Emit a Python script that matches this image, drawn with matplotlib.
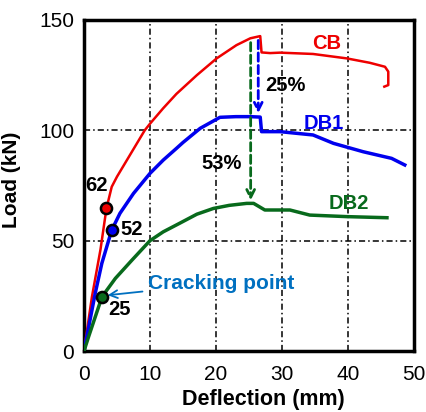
import matplotlib
matplotlib.use("Agg")
import matplotlib.pyplot as plt

plt.rcParams['font.family'] = ['Liberation Sans', 'DejaVu Sans']

# CB (control beam)
cb_x = [0, 1.2, 2.5, 3.4, 4.2, 5.0, 6.5, 8.2, 9.2, 10.0, 12.0, 14.0, 17.1, 20.1, 23.1, 25.2, 26.7,
        26.9, 28.2, 29.7, 34.7, 39.8, 43.3, 45.6, 46.1, 46.1, 45.5]
cb_y = [0, 24.5, 46, 64.6, 74.4, 79, 86.5, 95.0, 100.0, 103.0, 110, 116.5, 125, 132.6, 138.6, 141.7, 142.7,
        135.3, 135.0, 135.2, 134.6, 132.6, 130.6, 128.8, 126.6, 120.5, 119.8]
# DB1
db1_x = [0, 1.7, 2.7, 4.2, 5.45, 7.5, 10.0, 12.0, 14.0, 15.0, 17.6, 20.6, 23.0, 25.2, 26.7,
         26.9, 29.7, 34.7, 37.8, 42.3, 46.6, 48.6]
db1_y = [0, 26.1, 39.7, 54.8, 62.4, 71.4, 80.5, 86.5, 91.8, 94.5, 100.9, 105.9, 106.2, 106.2, 106.0,
         99.4, 99.4, 97.9, 94.1, 90.3, 87.3, 84.3]
# DB2
db2_x = [0, 0.7, 2.73, 4.75, 7.27, 10.0, 12.0, 14.5, 17.1, 19.6, 22.0, 24.65, 25.7, 27.4, 31.2,
         34.2, 39.8, 45.9]
db2_y = [0, 6.5, 24.6, 32.9, 41.2, 50.0, 54.0, 57.9, 62.0, 64.6, 66.0, 66.9, 66.9, 63.9, 63.9,
         61.6, 60.9, 60.4]

# Cracking points
crack_x = [3.4, 4.2, 2.73]
crack_y = [64.6, 54.8, 24.6]
crack_labels = ["62", "52", "25"]

x_ticks = [0, 10, 20, 30, 40, 50]
y_ticks = [0, 50, 100, 150]

fig = plt.figure(figsize=(4.27, 4.12), dpi=100)
ax = fig.add_axes([0.1967, 0.148, 0.7729, 0.8035])

for v in [10, 20, 30, 40]:
    ax.axvline(v, color='black', lw=1.1, ls=(0, (4, 2, 1, 2)), zorder=1)
for v in [50, 100]:
    ax.axhline(v, color='black', lw=1.1, ls=(0, (4, 2, 1, 2)), zorder=1)

red, blue, green = '#ee0000', '#0000ee', '#086a1c'
ax.plot(cb_x, cb_y, color=red, lw=1.8, zorder=3, solid_joinstyle='round')
ax.plot(db1_x, db1_y, color=blue, lw=2.5, zorder=3, solid_joinstyle='round')
ax.plot(db2_x, db2_y, color=green, lw=2.5, zorder=3, solid_joinstyle='round')

for xx, yy, c in zip(crack_x, crack_y, [red, blue, green]):
    ax.plot([xx], [yy], 'o', ms=8, mfc=c, mec='black', mew=1.8, zorder=5)

# drop arrows
ax.annotate('', xy=(26.4, 106.5), xytext=(26.4, 142),
            arrowprops=dict(arrowstyle='->', color=blue, lw=2, ls=(0, (3, 1.5)),
                            mutation_scale=14), zorder=4)
ax.annotate('', xy=(25.25, 67), xytext=(25.25, 141),
            arrowprops=dict(arrowstyle='->', color=green, lw=2, ls=(0, (3, 1.5)),
                            mutation_scale=14), zorder=4)

fs = 14.5
ax.text(36.8, 139.4, 'CB', color=red, fontsize=fs, fontweight='bold', ha='center', va='center')
ax.text(36.3, 103.2, 'DB1', color=blue, fontsize=fs, fontweight='bold', ha='center', va='center')
ax.text(40.1, 66.9, 'DB2', color=green, fontsize=fs, fontweight='bold', ha='center', va='center')
ax.text(30.5, 120.5, '25%', color='black', fontsize=fs, fontweight='bold', ha='center', va='center')
ax.text(20.9, 85, '53%', color='black', fontsize=fs, fontweight='bold', ha='center', va='center')

pos_lbl = [(1.97, 75.2), (7.2, 55.1), (5.35, 18.6)]
for (lx, ly), t in zip(pos_lbl, crack_labels):
    ax.text(lx, ly, t, color='black', fontsize=fs, fontweight='bold', ha='center', va='center')

ax.annotate('Cracking point', xy=(3.6, 25.3), xytext=(9.7, 30.7),
            color='#0070c0', fontsize=15, fontweight='bold', ha='left', va='center',
            arrowprops=dict(arrowstyle='->', color='#0070c0', lw=1.3, shrinkA=2, shrinkB=0,
                            mutation_scale=14))

ax.set_xlim(0, 50)
ax.set_ylim(0, 150)
ax.set_xticks(x_ticks)
ax.set_yticks(y_ticks)
ax.tick_params(length=0, labelsize=15)
ax.tick_params(axis='x', pad=10)
ax.tick_params(axis='y', pad=7)
for s in ax.spines.values():
    s.set_linewidth(2.5)
ax.set_xlabel('Deflection (mm)', fontsize=15.5, fontweight='bold')
ax.set_ylabel('Load (kN)', fontsize=15, fontweight='bold')
ax.xaxis.set_label_coords(0.545, -0.115)
ax.yaxis.set_label_coords(-0.19, 0.517)

fig.savefig('out.png', dpi=100)
